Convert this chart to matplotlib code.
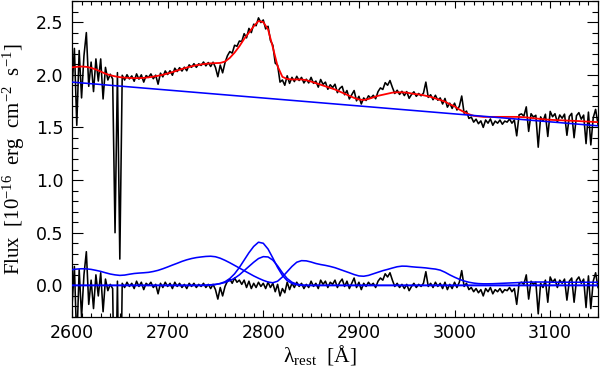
import numpy as np
import matplotlib
matplotlib.use("Agg")
import matplotlib.pyplot as plt
from matplotlib.ticker import MultipleLocator

plt.rcParams['mathtext.fontset'] = 'custom'
plt.rcParams['mathtext.rm'] = 'Liberation Serif'
plt.rcParams['mathtext.it'] = 'Liberation Serif:italic'

# ---------------- observed spectrum (2.5 A sampling, 2600..3150) ----------------
flux = [
    1.87, 2.25, 1.52, 2.23, 1.78, 2.18, 2.40, 1.89, 2.12, 1.84,
    2.15, 1.94, 2.15, 1.77, 2.07, 1.95, 2.005, 1.96, 0.50, 2.02,
    0.25, 1.995, 1.95, 2.00, 1.96, 1.989, 1.938, 2.008, 1.958, 1.999,
    1.93, 1.992, 1.975, 2.008, 1.962, 1.996, 1.91, 2.015, 1.98, 2.036,
    2.002, 2.038, 1.995, 2.062, 2.03, 2.067, 2.035, 2.072, 2.038, 2.094,
    2.07, 2.105, 2.07, 2.104, 2.088, 2.121, 2.084, 2.116, 2.078, 2.119,
    2.07, 1.981, 2.092, 2.018, 2.115, 2.18, 2.22, 2.205, 2.28, 2.27,
    2.32, 2.315, 2.39, 2.35, 2.44, 2.40, 2.48, 2.465, 2.54, 2.495,
    2.52, 2.435, 2.46, 2.325, 2.28, 2.11, 2.09, 1.93, 1.95, 1.90,
    1.99, 1.918, 1.975, 1.935, 1.985, 1.945, 1.975, 1.922, 1.958, 1.922,
    1.975, 1.918, 1.94, 1.882, 1.955, 1.908, 1.93, 1.862, 1.905, 1.878,
    1.91, 1.83, 1.87, 1.89, 1.81, 1.85, 1.77, 1.81, 1.85, 1.752,
    1.795, 1.722, 1.78, 1.755, 1.80, 1.778, 1.805, 1.772, 1.84, 1.875,
    1.86, 1.925, 1.90, 1.945, 1.88, 1.822, 1.853, 1.813, 1.843, 1.802,
    1.84, 1.776, 1.812, 1.838, 1.795, 1.822, 1.80, 1.825, 1.93, 1.785,
    1.81, 1.763, 1.805, 1.758, 1.78, 1.722, 1.775, 1.692, 1.73, 1.68,
    1.73, 1.665, 1.70, 1.798, 1.635, 1.655, 1.585, 1.598, 1.55, 1.578,
    1.535, 1.562, 1.50, 1.57, 1.54, 1.58, 1.52, 1.56, 1.54, 1.57,
    1.53, 1.56, 1.55, 1.58, 1.54, 1.57, 1.42, 1.62, 1.628, 1.607,
    1.695, 1.462, 1.63, 1.598, 1.615, 1.312, 1.60, 1.558, 1.625, 1.414,
    1.652, 1.601, 1.63, 1.549, 1.618, 1.587, 1.626, 1.425, 1.604, 1.633,
    1.402, 1.611, 1.64, 1.578, 1.617, 1.346, 1.645, 1.334, 1.592, 1.671,
    1.53,
]

# residuals (data - model), same sampling
resid = [
    -0.20, 0.18, -0.55, 0.15, -0.30, 0.10, 0.32, -0.18, 0.05, -0.22,
    0.10, -0.10, 0.12, -0.25, 0.06, -0.05, 0.01, -0.03, -1.49, 0.04,
    -1.73, 0.02, -0.02, 0.03, -0.01, 0.02, -0.03, 0.04, -0.01, 0.03,
    -0.04, 0.02, 0.00, 0.03, -0.02, 0.01, -0.08, 0.02, -0.02, 0.03,
    -0.01, 0.02, -0.03, 0.03, -0.01, 0.02, -0.02, 0.01, -0.03, 0.02,
    -0.01, 0.02, -0.02, 0.01, -0.01, 0.02, -0.02, 0.01, -0.03, 0.01,
    -0.04, -0.13, -0.02, -0.10, -0.01, 0.04, 0.06, 0.02, 0.07, 0.03,
    0.05, 0.01, 0.05, -0.02, 0.04, -0.03, 0.02, -0.02, 0.03, -0.01,
    0.02, -0.03, 0.03, -0.02, 0.02, -0.06, 0.01, -0.10, -0.03, -0.07,
    0.03, -0.04, 0.02, -0.02, 0.03, -0.01, 0.02, -0.03, 0.01, -0.02,
    0.04, -0.01, 0.02, -0.03, 0.05, 0.01, 0.04, -0.02, 0.03, 0.01,
    0.05, -0.02, 0.03, 0.06, -0.01, 0.04, -0.03, 0.02, 0.07, -0.02,
    0.03, -0.04, 0.02, -0.01, 0.03, 0.00, 0.02, -0.02, 0.04, 0.07,
    0.05, 0.11, 0.08, 0.12, 0.05, -0.01, 0.02, -0.02, 0.01, -0.03,
    0.01, -0.05, -0.01, 0.02, -0.02, 0.01, -0.01, 0.02, 0.13, -0.01,
    0.02, -0.02, 0.03, -0.01, 0.02, -0.03, 0.03, -0.04, 0.01, -0.03,
    0.03, -0.02, 0.03, 0.14, -0.01, 0.02, -0.04, -0.02, -0.06, -0.03,
    -0.07, -0.04, -0.10, -0.03, -0.06, -0.02, -0.08, -0.04, -0.06, -0.03,
    -0.07, -0.04, -0.05, -0.02, -0.06, -0.03, -0.18, 0.02, 0.03, 0.01,
    0.10, -0.13, 0.04, 0.01, 0.03, -0.27, 0.02, -0.02, 0.05, -0.16,
    0.08, 0.03, 0.06, -0.02, 0.05, 0.02, 0.06, -0.14, 0.04, 0.07,
    -0.16, 0.05, 0.08, 0.02, 0.06, -0.21, 0.09, -0.22, 0.04, 0.12,
    -0.02,
]

# ---------------- model curves (5 A sampling, 2600..3150) ----------------
model = [
    2.07, 2.075, 2.078, 2.075, 2.065, 2.05, 2.03, 2.01, 1.995, 1.985,   # 2600-2645
    1.977, 1.972, 1.97, 1.968, 1.968, 1.97, 1.975, 1.982, 1.99, 2.00,   # 2650-2695
    2.012, 2.025, 2.04, 2.055, 2.068, 2.08, 2.09, 2.098, 2.104, 2.108,  # 2700-2745
    2.11, 2.112, 2.125, 2.16, 2.21, 2.27, 2.34, 2.40, 2.46, 2.51,       # 2750-2795
    2.50, 2.43, 2.26, 2.08, 1.98, 1.96, 1.955, 1.955, 1.955, 1.948,     # 2800-2845
    1.935, 1.92, 1.905, 1.89, 1.875, 1.86, 1.84, 1.82, 1.80, 1.78,      # 2850-2895
    1.765, 1.76, 1.77, 1.785, 1.80, 1.81, 1.82, 1.83, 1.833, 1.833,     # 2900-2945
    1.83, 1.822, 1.815, 1.81, 1.80, 1.79, 1.775, 1.76, 1.745, 1.72,     # 2950-2995
    1.70, 1.67, 1.645, 1.625, 1.61, 1.605, 1.60, 1.60, 1.60, 1.60,      # 3000-3045
    1.60, 1.60, 1.60, 1.60, 1.598, 1.595, 1.59, 1.585, 1.58, 1.575,     # 3050-3095
    1.572, 1.57, 1.568, 1.566, 1.564, 1.562, 1.56, 1.557, 1.555, 1.552, # 3100-3145
    1.55,                                                                # 3150
]

feii = [
    0.150, 0.155, 0.158, 0.157, 0.152, 0.143, 0.133, 0.120, 0.108, 0.100,  # 2600-2645
    0.095, 0.098, 0.106, 0.113, 0.117, 0.120, 0.124, 0.132, 0.143, 0.158,  # 2650-2695
    0.175, 0.193, 0.210, 0.228, 0.243, 0.255, 0.264, 0.270, 0.275, 0.277,  # 2700-2745
    0.272, 0.258, 0.238, 0.215, 0.190, 0.165, 0.140, 0.115, 0.090, 0.068,  # 2750-2795
    0.048, 0.032, 0.025, 0.040, 0.080, 0.130, 0.180, 0.220, 0.235, 0.233,  # 2800-2845
    0.222, 0.208, 0.198, 0.190, 0.180, 0.168, 0.152, 0.136, 0.120, 0.103,  # 2850-2895
    0.090, 0.087, 0.095, 0.110, 0.125, 0.140, 0.152, 0.165, 0.177, 0.183,  # 2900-2945
    0.182, 0.177, 0.173, 0.170, 0.166, 0.160, 0.155, 0.145, 0.125, 0.100,  # 2950-2995
    0.078, 0.058, 0.042, 0.030, 0.022, 0.017, 0.015, 0.015, 0.016, 0.018,  # 3000-3045
    0.020, 0.022, 0.024, 0.026, 0.028, 0.030, 0.031, 0.032, 0.032, 0.032,  # 3050-3095
    0.031, 0.030, 0.030, 0.030, 0.030, 0.030, 0.030, 0.030, 0.030, 0.030,  # 3100-3145
    0.030,                                                                  # 3150
]

# Mg II gaussian components, 2740..2845 (zero elsewhere)
mg_broad = [0.000, 0.003, 0.008, 0.018, 0.035, 0.065, 0.110, 0.170, 0.240, 0.310,
            0.370, 0.410, 0.400, 0.345, 0.260, 0.170, 0.095, 0.045, 0.018, 0.006,
            0.000, 0.000]
mg_second = [0.003, 0.006, 0.010, 0.017, 0.028, 0.045, 0.068, 0.100, 0.140, 0.180,
             0.220, 0.255, 0.273, 0.270, 0.240, 0.185, 0.120, 0.065, 0.030, 0.012,
             0.004, 0.000]

# power-law continuum end points
cont_wave = [2600, 3150]
cont_flux = [1.93, 1.515]

xticks = [2600, 2700, 2800, 2900, 3000, 3100]
yticks = [0.0, 0.5, 1.0, 1.5, 2.0, 2.5]

wave_d = 2600 + 2.5 * np.arange(len(flux))
wave_m = 2600 + 5.0 * np.arange(len(model))
n_before = 28
g1 = np.array([0.0] * n_before + mg_broad + [0.0] * (len(model) - n_before - len(mg_broad)))
g2 = np.array([0.0] * n_before + mg_second + [0.0] * (len(model) - n_before - len(mg_second)))

fig = plt.figure(figsize=(6.0, 3.72), dpi=100)
ax = fig.add_axes([72 / 600, 1 - 317 / 372, 526 / 600, 316 / 372])

lw = 1.15
ax.plot(wave_d, flux, color='black', lw=lw, zorder=2)
ax.plot(wave_m, model, color='#ff0000', lw=1.3, zorder=3)
ax.plot(cont_wave, cont_flux, color='#0000ff', lw=lw, zorder=3)
ax.plot(wave_d, resid, color='black', lw=lw, zorder=2)
ax.plot(wave_m, feii, color='#0000ff', lw=lw, zorder=3)
ax.plot(wave_m, g1, color='#0000ff', lw=lw, zorder=3)
ax.plot(wave_m, g2, color='#0000ff', lw=lw, zorder=3)

ax.set_xlim(2600, 3150)
ax.set_ylim(-0.3, 2.7)
ax.set_xticks(xticks)
ax.set_xticklabels([str(t) for t in xticks])
ax.set_yticks(yticks)
ax.set_yticklabels(['%.1f' % t for t in yticks])
ax.xaxis.set_minor_locator(MultipleLocator(10))
ax.yaxis.set_minor_locator(MultipleLocator(0.1))

ax.tick_params(which='both', direction='in', top=True, right=True, width=0.8,
               labelsize=12.5, colors='black')
ax.xaxis.set_tick_params(which='major', length=5, pad=5)
ax.xaxis.set_tick_params(which='minor', length=2.6)
ax.yaxis.set_tick_params(which='major', length=8, pad=6)
ax.yaxis.set_tick_params(which='minor', length=4)
for lab in ax.get_xticklabels() + ax.get_yticklabels():
    lab.set_family('DejaVu Sans')
for sp in ax.spines.values():
    sp.set_linewidth(0.9)

ax.set_ylabel(r'Flux  [10$^{-16}$  erg  cm$^{-2}$  s$^{-1}$]', family='Liberation Serif',
              fontsize=15)
ax.yaxis.set_label_coords(-0.086, 0.5)
ax.set_xlabel(r'λ$_{\rm rest}$  [Å]', family='Liberation Serif', fontsize=15.5)
ax.xaxis.set_label_coords((320 - 72) / 526, -0.082)

fig.savefig('out.png', dpi=100)
